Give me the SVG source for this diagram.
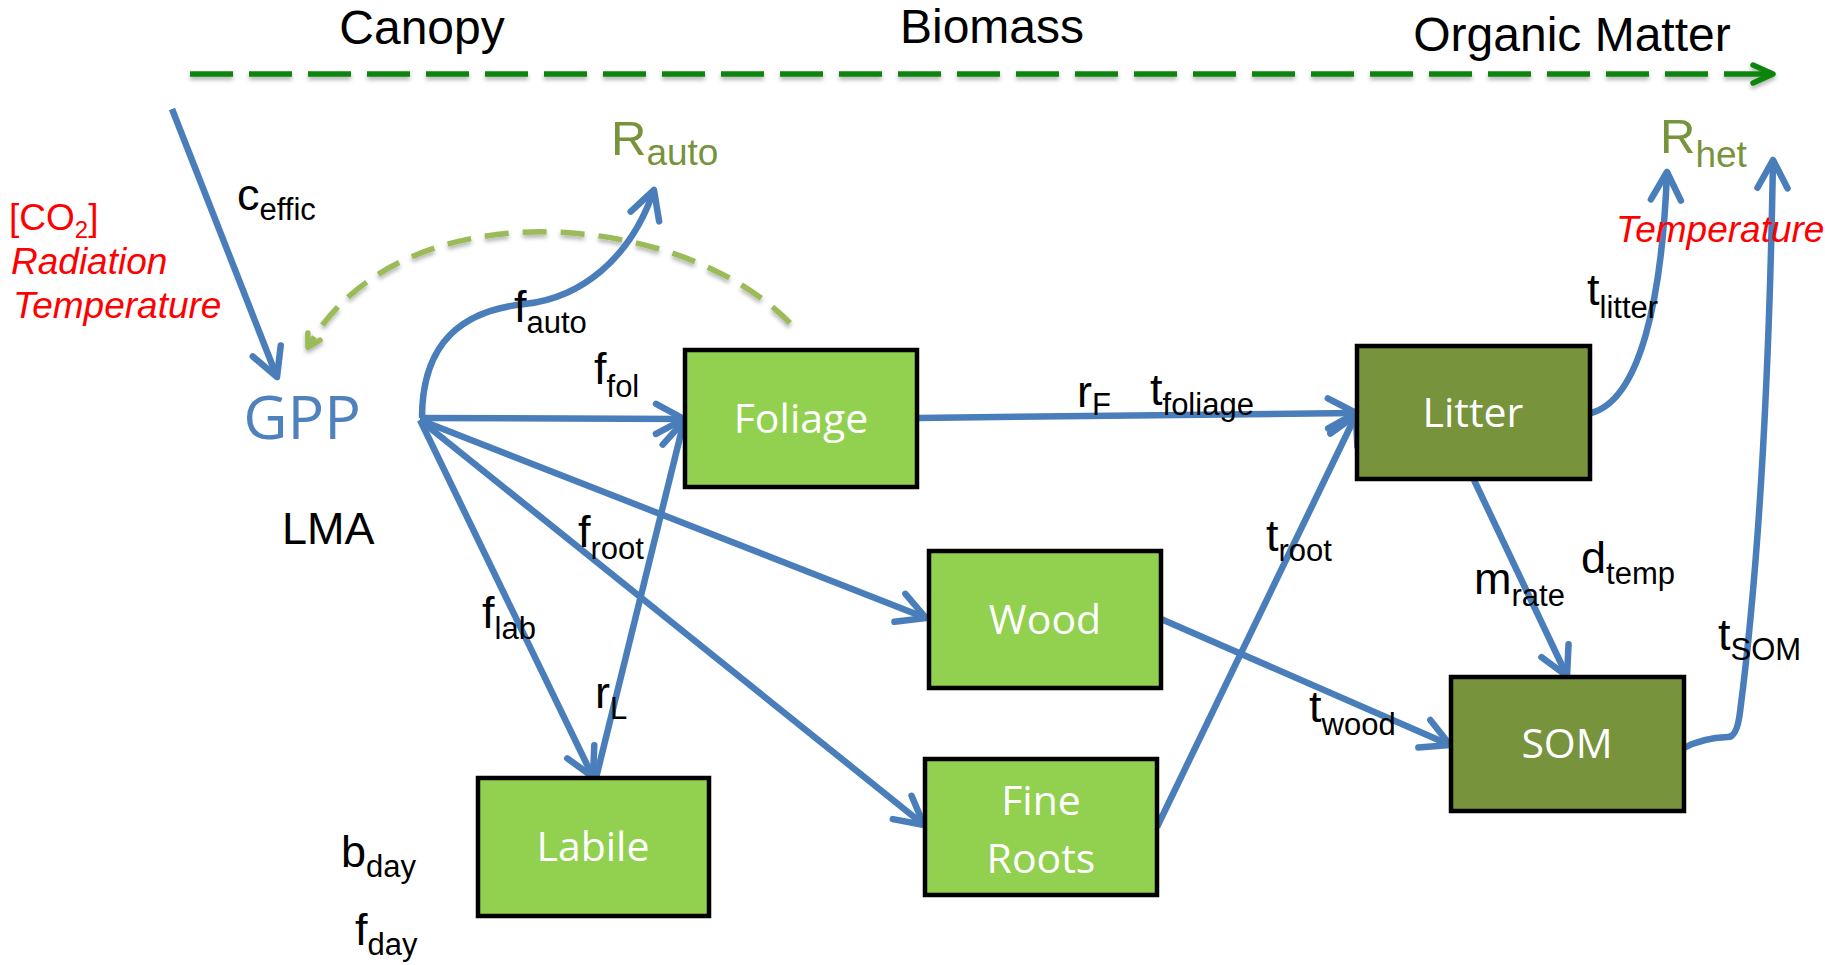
<svg xmlns="http://www.w3.org/2000/svg" width="1825" height="965" viewBox="0 0 1825 965">
<style>
.lbl{font-family:"Liberation Sans",Arial,sans-serif;font-size:45px;fill:#000}
.sub{font-size:31px}
.top{font-family:"Liberation Sans",Arial,sans-serif;font-size:48px;fill:#000;text-anchor:middle}
.red{font-family:"Liberation Sans",Arial,sans-serif;font-size:37px;fill:#FF0000}
.ital{font-style:italic}
.resp{font-family:"Liberation Sans",Arial,sans-serif;font-size:49px;fill:#77933C}
.box{stroke:#000;stroke-width:4.5}
.light{fill:#92D050}
.dark{fill:#77933C}
.bt{font-family:"Open Sans","Noto Sans",sans-serif;font-size:41px;fill:#fff;text-anchor:middle}
.flow{fill:none;stroke:#4A7EBB;stroke-width:6.5;stroke-linecap:butt}
.arr{marker-end:url(#ah)}
</style>
<defs>
<filter id="sh" filterUnits="userSpaceOnUse" x="0" y="0" width="1825" height="965">
<feDropShadow dx="0" dy="3" stdDeviation="2" flood-color="#000" flood-opacity="0.3"/>
</filter>
<marker id="ah" markerUnits="userSpaceOnUse" viewBox="0 0 34 34" markerWidth="34" markerHeight="34" refX="31" refY="17" orient="auto" overflow="visible">
<path d="M3,2 L31,17 L3,32" fill="none" stroke="#4A7EBB" stroke-width="6.5" stroke-linecap="round" stroke-linejoin="round"/>
</marker>
<marker id="gah" markerUnits="userSpaceOnUse" viewBox="0 0 26 24" markerWidth="26" markerHeight="24" refX="23" refY="12" orient="auto" overflow="visible">
<path d="M3,3 L23,12 L3,21" fill="none" stroke="#0A840A" stroke-width="5.5" stroke-linecap="round" stroke-linejoin="round"/>
</marker>
<marker id="lgah" markerUnits="userSpaceOnUse" viewBox="0 0 18 18" markerWidth="18" markerHeight="18" refX="15" refY="9" orient="auto" overflow="visible">
<path d="M3,2 L15,9 L3,16" fill="none" stroke="#9BBB59" stroke-width="5.5" stroke-linecap="round" stroke-linejoin="round"/>
</marker>
</defs>

<g id="headers">
<text class="top" x="422" y="44">Canopy</text>
<text class="top" x="992" y="43">Biomass</text>
<text class="top" x="1572" y="51">Organic Matter</text>
</g>

<g id="connectors">
<path d="M190,74 L1773,74" fill="none" stroke="#0A840A" stroke-width="5.5" stroke-dasharray="43 16" marker-end="url(#gah)" filter="url(#sh)"/>
<path d="M790,323 C680,210 400,185 308,347" fill="none" stroke="#9BBB59" stroke-width="5.5" stroke-dasharray="24 14" marker-end="url(#lgah)" filter="url(#sh)"/>
<path class="flow arr" d="M172,109 L277,377"/>
<path class="flow arr" d="M422,418 C422,340 465,310 525,304 C580,298 630,260 654,190"/>
<path class="flow arr" d="M420,418 L684,419"/>
<path class="flow arr" d="M420,420 L926,618"/>
<path class="flow arr" d="M420,420 L924,825"/>
<path class="flow arr" d="M420,420 L593,777"/>
<path class="flow arr" d="M596,778 L684,421"/>
<path class="flow arr" d="M917,418 L1356,413"/>
<path class="flow arr" d="M1157,827 L1356,415"/>
<path class="flow arr" d="M1161,619 L1450,745"/>
<path class="flow arr" d="M1474,480 L1567,676"/>
<path class="flow arr" d="M1591,413 C1640,400 1662,300 1667,172"/>
<path class="flow arr" d="M1684,748 Q1702,738 1728,737 Q1737,737 1740,712 C1752,620 1768,450 1773,160"/>
</g>

<g id="labels">
<text class="lbl" x="237" y="210">c<tspan class="sub" dy="10">effic</tspan></text>
<text class="lbl" x="514" y="322">f<tspan class="sub" dy="11">auto</tspan></text>
<text class="lbl" x="594" y="384">f<tspan class="sub" dy="13">fol</tspan></text>
<text class="lbl" x="578" y="547">f<tspan class="sub" dy="12">root</tspan></text>
<text class="lbl" x="482" y="628">f<tspan class="sub" dy="11">lab</tspan></text>
<text class="lbl" x="595" y="708">r<tspan class="sub" dy="11">L</tspan></text>
<text class="lbl" x="1077" y="407">r<tspan class="sub" dy="8">F</tspan></text>
<text class="lbl" x="1150" y="405">t<tspan class="sub" dy="10">foliage</tspan></text>
<text class="lbl" x="1266" y="551">t<tspan class="sub" dy="10">root</tspan></text>
<text class="lbl" x="1587" y="305">t<tspan class="sub" dy="13">litter</tspan></text>
<text class="lbl" x="1474" y="594">m<tspan class="sub" dy="12">rate</tspan></text>
<text class="lbl" x="1581" y="573">d<tspan class="sub" dy="11">temp</tspan></text>
<text class="lbl" x="1309" y="722">t<tspan class="sub" dy="13">wood</tspan></text>
<text class="lbl" x="1718" y="650">t<tspan class="sub" dy="10">SOM</tspan></text>
<text class="lbl" x="341" y="867">b<tspan class="sub" dy="10">day</tspan></text>
<text class="lbl" x="355" y="945">f<tspan class="sub" dy="10">day</tspan></text>
<text class="lbl" x="282" y="544">LMA</text>
<text class="red" x="9" y="230">[CO<tspan font-size="24" dy="8">2</tspan><tspan dy="-8">]</tspan></text>
<text class="red ital" x="11" y="274">Radiation</text>
<text class="red ital" x="13" y="318">Temperature</text>
<text class="red ital" x="1616" y="242" font-size="36">Temperature</text>
</g>

<g id="GPP">
<text x="302" y="439" font-family="'Open Sans','Noto Sans',sans-serif" font-size="61" fill="#4F81BD" text-anchor="middle">GPP</text>
</g>
<g id="Rauto">
<text class="resp" x="611" y="155">R<tspan font-size="37" dy="10">auto</tspan></text>
</g>
<g id="Rhet">
<text class="resp" x="1660" y="153">R<tspan font-size="37" dy="14">het</tspan></text>
</g>

<g id="Foliage">
<rect class="box light" x="685" y="350" width="232" height="137"/>
<text class="bt" x="801" y="433">Foliage</text>
</g>
<g id="Wood">
<rect class="box light" x="929" y="551" width="232" height="137"/>
<text class="bt" x="1045" y="634">Wood</text>
</g>
<g id="FineRoots">
<rect class="box light" x="925" y="759" width="232" height="136"/>
<text class="bt" x="1041" y="815">Fine</text>
<text class="bt" x="1041" y="873">Roots</text>
</g>
<g id="Labile">
<rect class="box light" x="478" y="778" width="231" height="138"/>
<text class="bt" x="593" y="861">Labile</text>
</g>
<g id="Litter">
<rect class="box dark" x="1357" y="346" width="233" height="133"/>
<text class="bt" x="1473" y="427">Litter</text>
</g>
<g id="SOM">
<rect class="box dark" x="1451" y="677" width="233" height="134"/>
<text class="bt" x="1567" y="758">SOM</text>
</g>
</svg>
